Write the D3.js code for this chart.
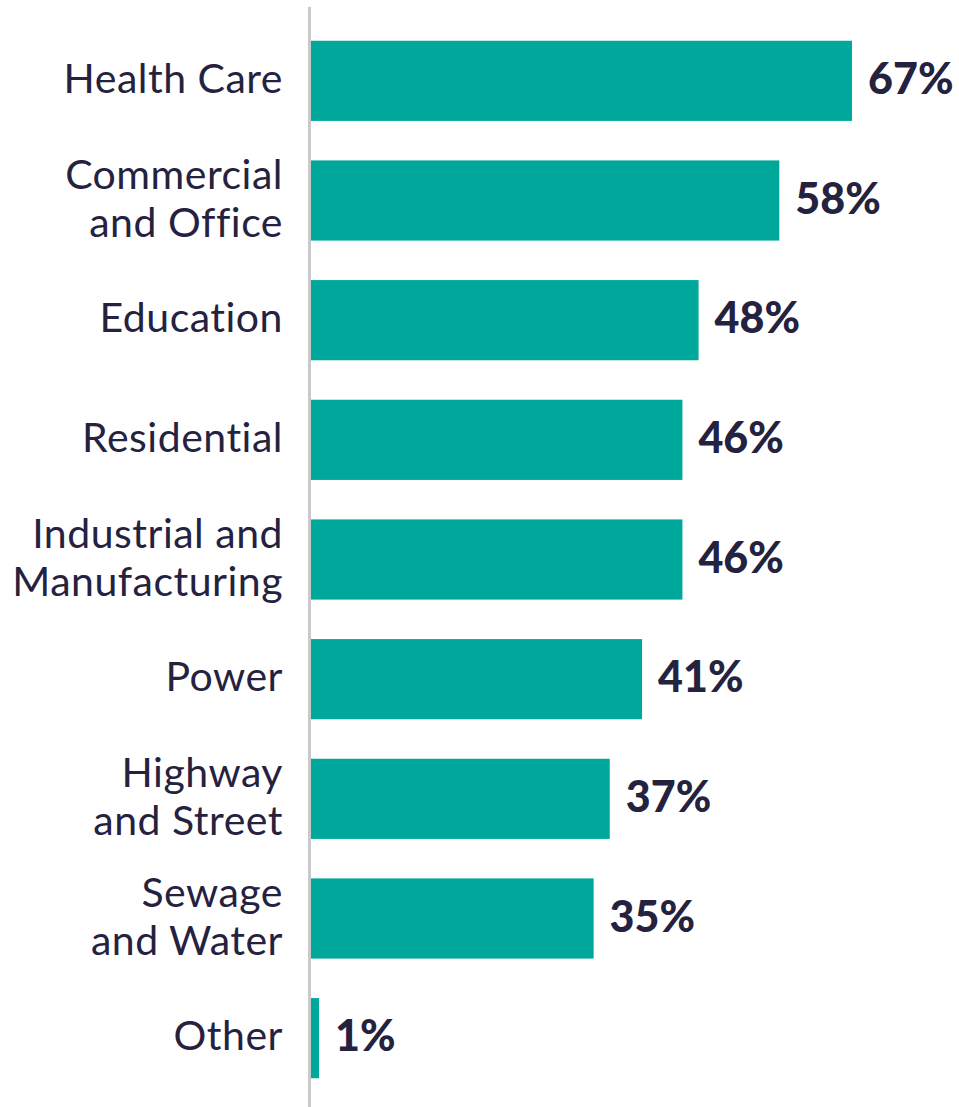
<!DOCTYPE html>
<html><head><meta charset="utf-8">
<script src="https://cdn.jsdelivr.net/npm/d3@7"></script>
<style>html,body{margin:0;padding:0;background:#fff;}</style>
</head><body>
<svg id="chart" width="959" height="1107"></svg>
<script>
const categories = [["Health Care"],["Commercial","and Office"],["Education"],["Residential"],["Industrial and","Manufacturing"],["Power"],["Highway","and Street"],["Sewage","and Water"],["Other"]];
const values = [67,58,48,46,46,41,37,35,1];
const valueLabels = ["67%","58%","48%","46%","46%","41%","37%","35%","1%"];

const svg = d3.select("#chart");
const keys = categories.map((c,i)=>i);
const y = d3.scaleBand().domain(keys).range([21,1098]).paddingInner(0.33).paddingOuter(0.165);
const x = d3.scaleLinear().domain([0,67]).range([311,852]);
const textColor = "#25223f";
const font = "Lato, 'Noto Sans', sans-serif";

svg.selectAll("rect.bar").data(values).join("rect").attr("class","bar")
  .attr("x", x(0)).attr("y",(d,i)=>y(i)).attr("width",d=>x(d)-x(0)).attr("height",y.bandwidth())
  .attr("fill","#00a89c");

svg.append("line").attr("x1",309.5).attr("x2",309.5).attr("y1",7).attr("y2",1107)
  .attr("stroke","#c9c9c9").attr("stroke-width",3);

const lh = 48;
categories.forEach((lines,i)=>{
  const cy = y(i)+y.bandwidth()/2;
  const t = svg.append("text").attr("text-anchor","end").attr("font-family",font)
    .attr("font-size",41).attr("letter-spacing",0.5).attr("fill",textColor);
  lines.forEach((ln,j)=>{
    const off = (j-(lines.length-1)/2)*lh;
    t.append("tspan").attr("x",283).attr("y",cy+off+12).text(ln);
  });
});

svg.selectAll("text.val").data(values).join("text").attr("class","val")
  .attr("x",d=>x(d)+16).attr("y",(d,i)=>y(i)+y.bandwidth()/2+13)
  .attr("font-family",font).attr("font-weight",900).attr("font-size",43)
  .attr("fill",textColor).text((d,i)=>valueLabels[i]);
</script>
</body></html>
